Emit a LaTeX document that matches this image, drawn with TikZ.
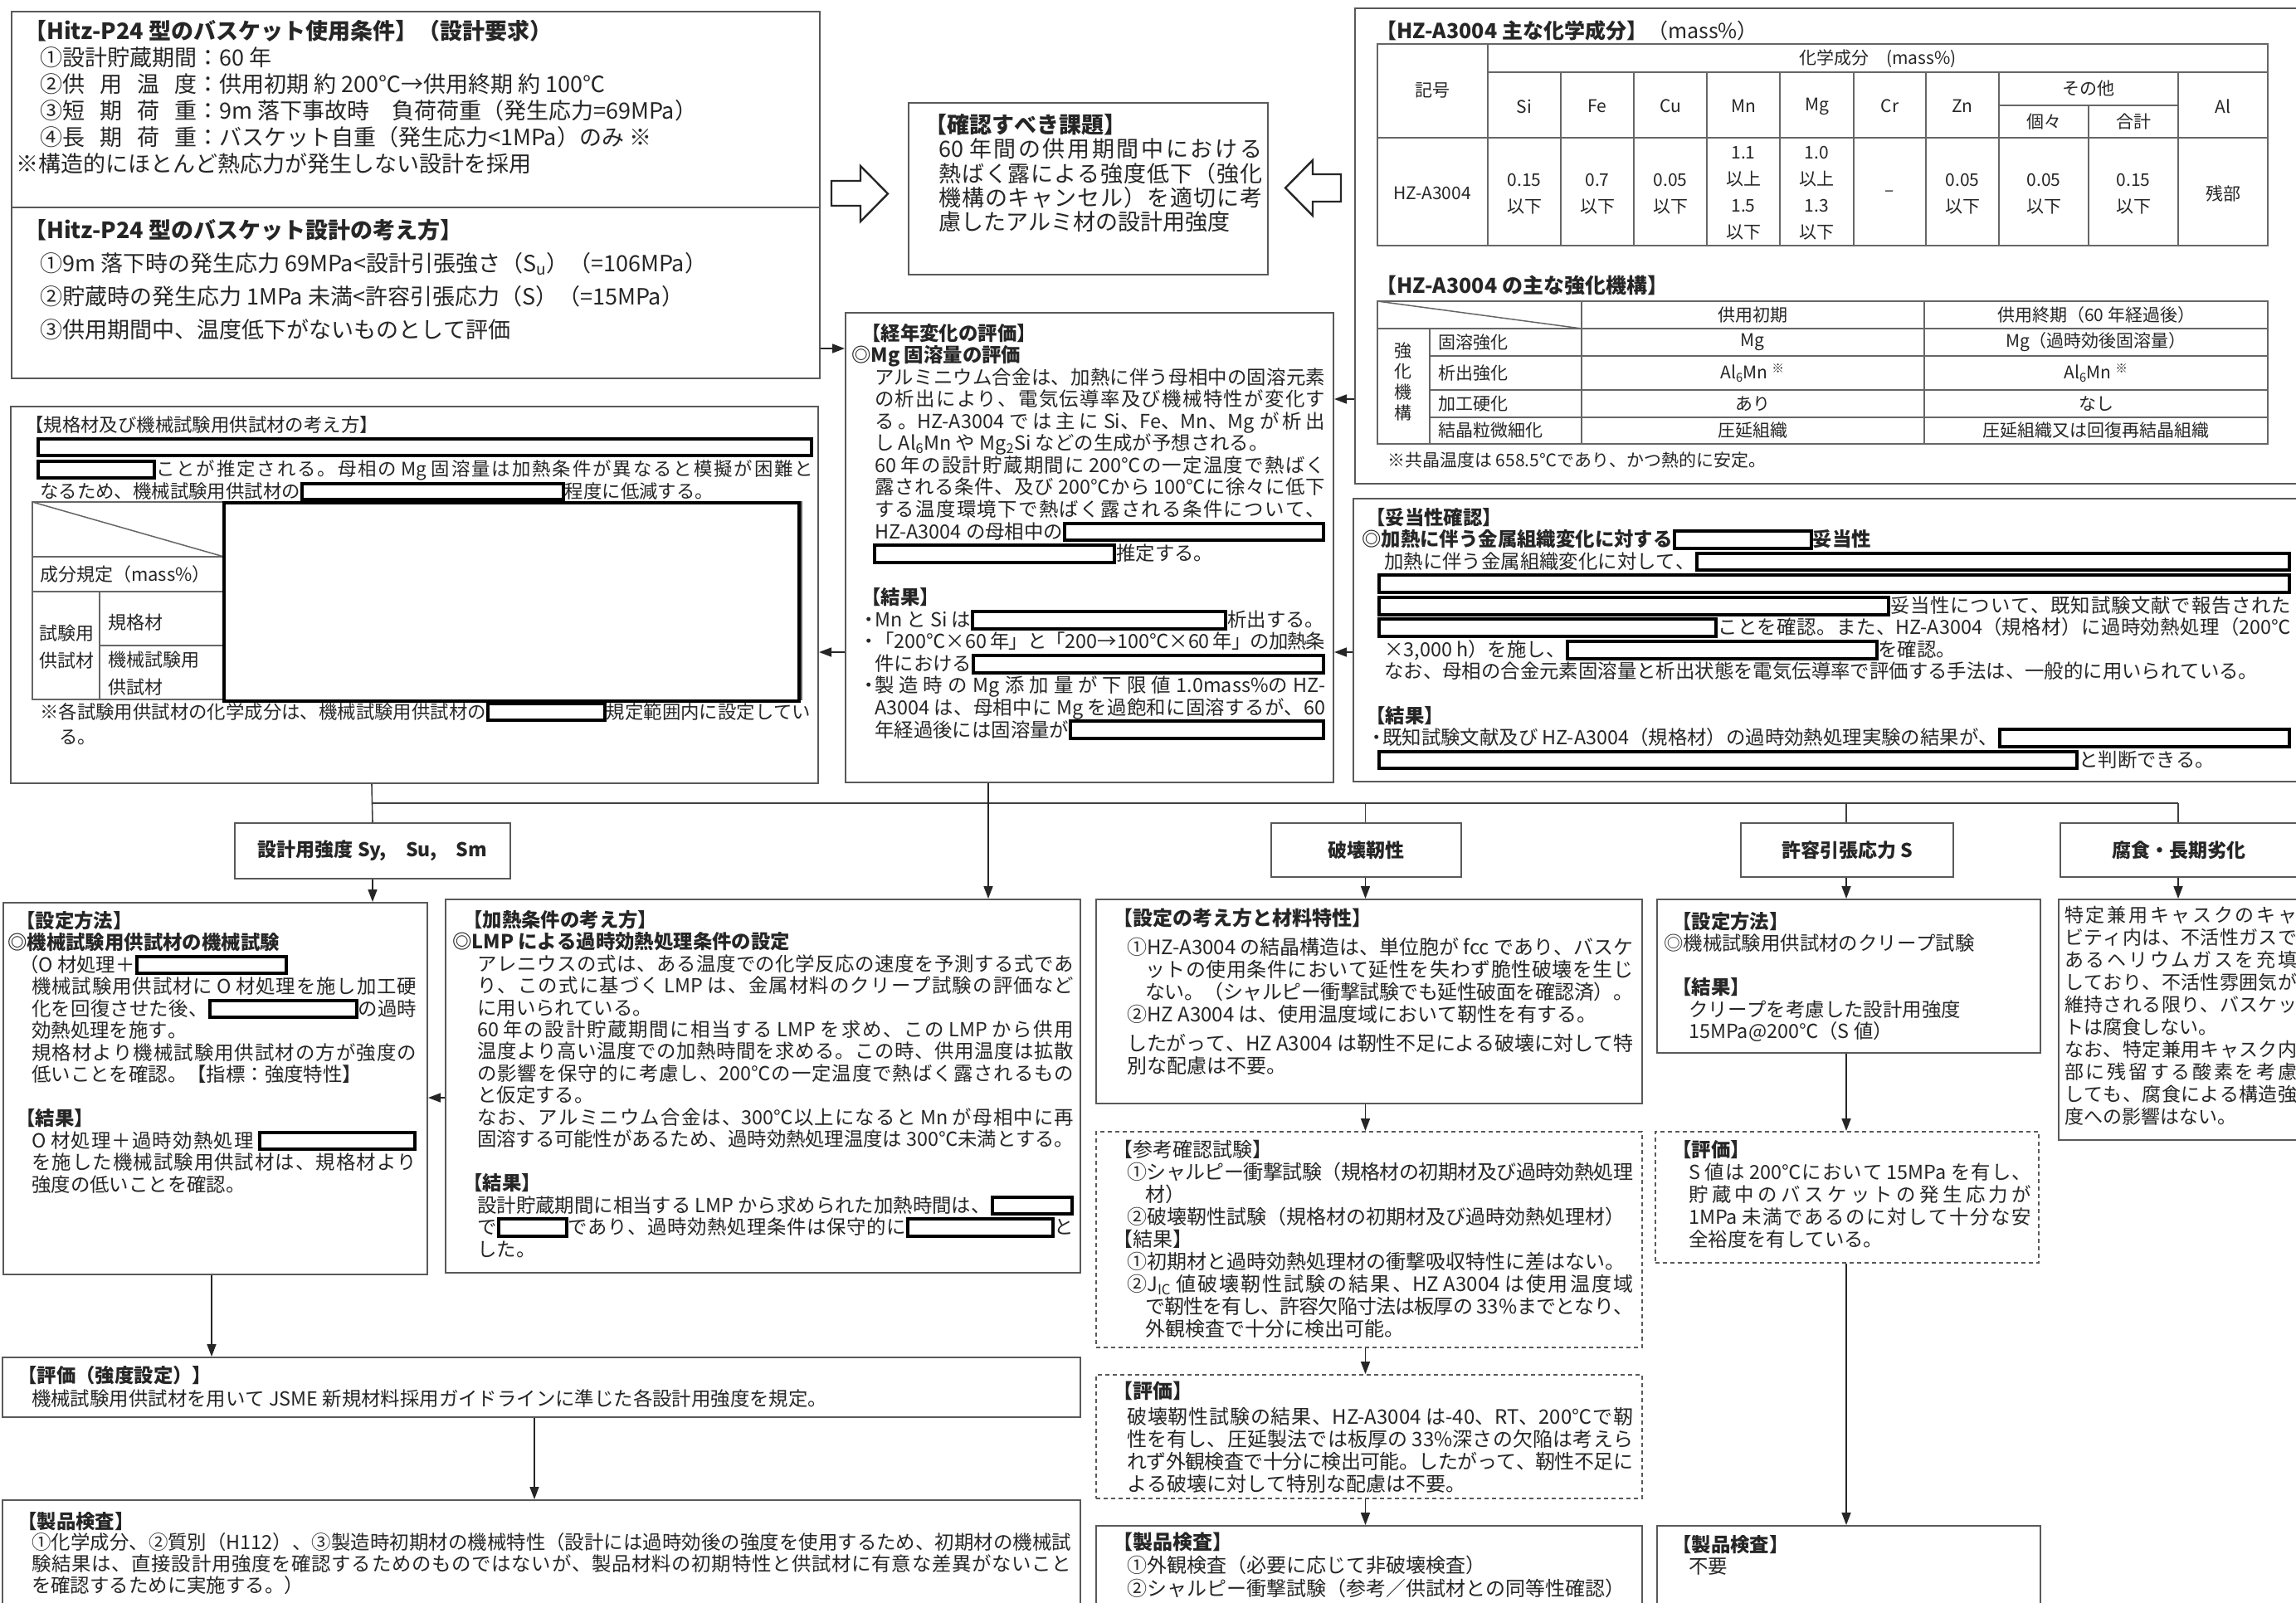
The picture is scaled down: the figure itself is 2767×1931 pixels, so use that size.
\documentclass[tikz,border=0pt]{standalone}
\usepackage{fontspec}
\setmainfont{Noto Sans CJK JP}
\usetikzlibrary{arrows.meta}
\newXeTeXintercharclass\jcls
\newcount\jc
\def\jrange#1#2{\jc=#1\relax\loop\XeTeXcharclass\jc=\jcls\ifnum\jc<#2\advance\jc1\repeat}
\jrange{"3000}{"30FF}\jrange{"4E00}{"9FFF}\jrange{"FF00}{"FFEF}\jrange{"2460}{"24FF}\jrange{"25A0}{"25FF}\jrange{"203B}{"203B}\jrange{"2103}{"2103}
\newcommand\cjkg{\hskip0pt plus 10pt minus 1.5pt\relax}
\XeTeXinterchartoks\jcls\jcls={\cjkg}
\XeTeXinterchartokenstate=1
\newcommand\fsz[2]{\fontsize{#1pt}{#2pt}\selectfont}
\newcommand\rowL[1]{\hbox to\hsize{\vrule width0pt height.95em depth.25em\relax#1\hfil}}
\newcommand\rowJ[1]{\hbox to\hsize{\vrule width0pt height.95em depth.25em\relax#1}}
\newcommand\blk[4]{\vbox{\hsize=#1pt\relax\fsz{#2}{#3}\lineskiplimit=-1000pt\lineskip=0pt\relax #4}}
\newcommand\rdxfill{{\color{black}\vrule width4pt height.88em depth.18em\xleaders\hbox{\lower.18em\vbox{\hrule height4pt width1pt\vskip\dimexpr1.06em-8pt\relax\hrule height4pt width1pt}}\hfill\vrule width4pt height.88em depth.18em}}
\newcommand\rdx[1]{\makebox[#1pt][l]{\rdxfill}}
\newcommand\sprd[4]{\makebox[6em][s]{#1\hfil#2\hfil#3\hfil#4}}
\newcommand\bul{\makebox[14pt][c]{・}}
\begin{document}
\begin{tikzpicture}[x=1pt,y=-1pt,
  bx/.style={draw=black!65, line width=2pt, inner sep=0pt, anchor=north west},
  dbx/.style={bx, dash pattern=on 5pt off 4pt, line width=1.8pt},
  lbl/.style={font=\fsz{23}{27}\bfseries, text=black!85},
  blkn/.style={anchor=north west, inner sep=0pt, text=black!85},
  arr/.style={draw=black!85, line width=1.6pt, -{Triangle[length=15pt,width=11pt]}},
  cn/.style={draw=black!75, line width=1.6pt},
  tbl/.style={draw=black!60, line width=2pt},
  tc/.style={inner sep=0pt, text=black!85, font=\fsz{21}{32}, align=center},
  rdb/.style={draw=black, line width=4pt, fill=white},
  hol/.style={draw=black!85, line width=2.4pt, fill=white, line join=miter}]
\useasboundingbox (0,0) rectangle (2767,1931);
\fill[white] (0,0) rectangle (2767,1931);

% helper coordinates
\coordinate (xa) at (448,0);
\coordinate (xk) at (1191,0);
\coordinate (xh) at (1645.5,0);
\coordinate (xs) at (2225,0);
\coordinate (xf) at (2625,0);
\coordinate (xl) at (255,0);
\coordinate (xe) at (644,0);
\coordinate (yA) at (0,420);
\coordinate (yB) at (0,481);
\coordinate (yC) at (0,786);
\coordinate (yD) at (0,1323);
\coordinate (yH) at (0,968);
\coordinate (yT) at (0,250);

% ---------------- boxes ----------------
\node[bx, minimum width=974pt, minimum height=442pt] (tl) at (13,13) {};
\draw[draw=black!65, line width=2pt] (tl.west |- yT) -- (tl.east |- yT);
\node[bx, minimum width=433pt, minimum height=207pt] (kak) at (1094,123) {};
\node[bx, minimum width=1150pt, minimum height=573pt] (tr) at (1632,9) {};
\node[bx, minimum width=588pt, minimum height=566pt] (kei) at (1018,376) {};
\node[bx, minimum width=973pt, minimum height=454pt] (kik) at (12,489) {};
\node[bx, minimum width=1150pt, minimum height=341pt] (dat) at (1630,600) {};

\node[bx, lbl, minimum width=332pt, minimum height=67pt] (dsgn) at (282,991) {設計用強度 Sy,\quad Su,\quad Sm};
\node[bx, lbl, minimum width=229pt, minimum height=65pt] (hak) at (1531,991) {破壊靭性};
\node[bx, lbl, minimum width=256pt, minimum height=65pt] (kyo) at (2097,991) {許容引張応力 S};
\node[bx, lbl, minimum width=286pt, minimum height=65pt] (fus) at (2482,991) {腐食・長期劣化};

\node[bx, minimum width=511pt, minimum height=448pt] (set1) at (3,1087) {};
\node[bx, minimum width=765pt, minimum height=450pt] (kan) at (536,1083) {};
\node[bx, minimum width=1299pt, minimum height=72pt] (hyo1) at (2,1635) {};
\node[bx, minimum width=1299pt, minimum height=140pt] (sei1) at (2,1807) {};
\node[bx, minimum width=658pt, minimum height=246pt] (hk1) at (1320,1083) {};
\node[dbx, minimum width=658pt, minimum height=260pt] (hk2) at (1320,1363) {};
\node[dbx, minimum width=658pt, minimum height=149pt] (hk3) at (1320,1656) {};
\node[bx, minimum width=658pt, minimum height=110pt] (hk4) at (1320,1838) {};
\node[bx, minimum width=462pt, minimum height=185pt] (ky1) at (1996,1083) {};
\node[dbx, minimum width=462pt, minimum height=158pt] (ky2) at (1994,1363) {};
\node[bx, minimum width=462pt, minimum height=110pt] (ky3) at (1996,1838) {};
\node[bx, minimum width=300pt, minimum height=290pt] (fs1) at (2480,1083) {};

% hollow arrows
\draw[hol] (1002,218) -- (1037,218) -- (1037,200) -- (1070,233.5) -- (1037,267) -- (1037,248) -- (1002,248) -- cycle;
\draw[hol] (1616,210) -- (1582,210) -- (1582,193) -- (1549,226.5) -- (1582,260) -- (1582,243) -- (1616,243) -- cycle;

% ---------------- connectors ----------------
\draw[arr] (tl.east |- yA) -- (kei.west |- yA);
\draw[arr] (tr.west |- yB) -- (kei.east |- yB);
\draw[arr] (dat.west |- yC) -- (kei.east |- yC);
\draw[arr] (kei.west |- yC) -- (kik.east |- yC);
\draw[cn] (kik.south -| xa) -- (dsgn.north);
\draw[cn] (xa |- yH) -- (xf |- yH);
\draw[cn] (xh |- yH) -- (hak.north -| xh);
\draw[cn] (xs |- yH) -- (kyo.north -| xs);
\draw[cn] (xf |- yH) -- (fus.north -| xf);
\draw[arr] (kei.south -| xk) -- (kan.north -| xk);
\draw[arr] (dsgn.south) -- (set1.north -| dsgn.south);
\draw[arr] (hak.south -| xh) -- (hk1.north -| xh);
\draw[arr] (hk1.south -| xh) -- (hk2.north -| xh);
\draw[arr] (hk2.south -| xh) -- (hk3.north -| xh);
\draw[arr] (hk3.south -| xh) -- (hk4.north -| xh);
\draw[arr] (kyo.south -| xs) -- (ky1.north -| xs);
\draw[arr] (ky1.south -| xs) -- (ky2.north -| xs);
\draw[arr] (ky2.south -| xs) -- (ky3.north -| xs);
\draw[arr] (fus.south -| xf) -- (fs1.north -| xf);
\draw[arr] (kan.west |- yD) -- (set1.east |- yD);
\draw[arr] (set1.south -| xl) -- (hyo1.north -| xl);
\draw[arr] (hyo1.south -| xe) -- (sei1.north -| xe);

% ---------------- top-left texts ----------------
\node[blkn] (tla) at (19,21.6) {\blk{960}{27}{32}{%
\rowL{\hskip10pt\bfseries 【Hitz-P24 型のバスケット使用条件】（設計要求）}
\rowL{\hskip29pt ①設計貯蔵期間：60 年}
\rowL{\hskip29pt ②\sprd{供}{用}{温}{度}：供用初期 約 200℃→供用終期 約 100℃}
\rowL{\hskip29pt ③\sprd{短}{期}{荷}{重}：9m 落下事故時　負荷荷重（発生応力=69MPa）}
\rowL{\hskip29pt ④\sprd{長}{期}{荷}{重}：バスケット自重（発生応力<1MPa）のみ ※}
\rowL{※構造的にほとんど熱応力が発生しない設計を採用}}};
\node[blkn] (tlb) at (19,261.6) {\blk{960}{27}{40}{%
\rowL{\hskip10pt\bfseries 【Hitz-P24 型のバスケット設計の考え方】}
\rowL{\hskip29pt ①9m 落下時の発生応力 69MPa<設計引張強さ（S\textsubscript{u}）（=106MPa）}
\rowL{\hskip29pt ②貯蔵時の発生応力 1MPa 未満<許容引張応力（S）（=15MPa）}
\rowL{\hskip29pt ③供用期間中、温度低下がないものとして評価}}};

\node[blkn] (kakt) at (1114,134.6) {\blk{407}{27}{29.3}{%
\rowL{\bfseries 【確認すべき課題】}
\rowJ{\hskip17pt 60 年間の供用期間中における}
\rowJ{\hskip17pt 熱ばく露による強度低下（強化}
\rowJ{\hskip17pt 機構のキャンセル）を適切に考}
\rowL{\hskip17pt 慮したアルミ材の設計用強度}}};

% ---------------- top-right tables ----------------
\node[blkn, anchor=west, font=\fsz{25}{30}] (trt1) at (1658,37) {\textbf{【HZ-A3004 主な化学成分】}（mass\%）};
\draw[tbl] (1660,53) rectangle (2733,296);
\draw[tbl] (1793,87) -- (2733,87);
\draw[tbl] (1660,166) -- (2733,166);
\draw[tbl] (2409,127) -- (2625,127);
\draw[tbl] (1793,53) -- (1793,296);
\foreach \x in {1881,1969,2057,2145,2234,2321,2409,2625} \draw[tbl] (\x,87) -- (\x,296);
\draw[tbl] (2517,127) -- (2517,296);
\node[tc] (t1k) at (1726,109) {記号};
\node[tc] (t1h) at (2263,71) {化学成分　(mass\%)};
\foreach \x/\t [count=\i] in {1837/Si,1925/Fe,2013/Cu,2101/Mn,2189.5/Mg,2277.5/Cr,2365/Zn,2679/Al} {\node[tc] (el\i) at (\x,128) {\t};}
\node[tc] (t1o) at (2517,107) {その他};
\node[tc] (t1p) at (2463,147) {個々};
\node[tc] (t1q) at (2571,147) {合計};
\node[tc] (t1n) at (1726,233) {HZ-A3004};
\foreach \x/\t [count=\i] in {1837/0.15,1925/0.7,2013/0.05,2365/0.05,2463/0.05,2571/0.15} {\node[tc] (dv\i) at (\x,234) {\t\\以下};}
\node[tc] (dmn) at (2101,233) {1.1\\以上\\1.5\\以下};
\node[tc] (dmg) at (2189.5,233) {1.0\\以上\\1.3\\以下};
\node[tc] (dcr) at (2277.5,233) {–};
\node[tc] (dal) at (2679,233) {残部};

\node[blkn, anchor=west, font=\fsz{25}{30}] (trt2) at (1658,344) {\textbf{【HZ-A3004 の主な強化機構】}};
\draw[tbl] (1660,363) rectangle (2733,535);
\draw[tbl] (1660,396) -- (2733,396);
\foreach \y in {429,470,503} \draw[tbl] (1723,\y) -- (2733,\y);
\draw[tbl] (1723,396) -- (1723,535);
\draw[tbl] (1906,363) -- (1906,535);
\draw[tbl] (2319,363) -- (2319,535);
\draw[tbl, line width=1.5pt] (1660,363) -- (1906,396);
\node[tc] (t2a) at (2112,380) {供用初期};
\node[tc] (t2b) at (2526,380) {供用終期（60 年経過後）};
\node[tc, font=\fsz{21}{25}] (t2k) at (1691,460) {強\\化\\機\\構};
\node[tc, anchor=west] (t2r1) at (1733,412.5) {固溶強化};
\node[tc, anchor=west] (t2r2) at (1733,449.5) {析出強化};
\node[tc, anchor=west] (t2r3) at (1733,486.5) {加工硬化};
\node[tc, anchor=west] (t2r4) at (1733,519) {結晶粒微細化};
\node[tc] (t2c1) at (2112,412.5) {Mg};
\node[tc] (t2c2) at (2112,449.5) {Al\textsubscript{6}Mn \textsuperscript{※}};
\node[tc] (t2c3) at (2112,486.5) {あり};
\node[tc] (t2c4) at (2112,519) {圧延組織};
\node[tc] (t2d1) at (2526,412.5) {Mg（過時効後固溶量）};
\node[tc] (t2d2) at (2526,449.5) {Al\textsubscript{6}Mn \textsuperscript{※}};
\node[tc] (t2d3) at (2526,486.5) {なし};
\node[tc] (t2d4) at (2526,519) {圧延組織又は回復再結晶組織};
\node[tc, anchor=west] (t2n) at (1672,555) {※共晶温度は 658.5℃であり、かつ熱的に安定。};

% ---------------- kei ----------------
\node[blkn] (keit) at (1026,387.7) {\blk{571}{23.4}{26.55}{%
\rowL{\hskip12pt\bfseries 【経年変化の評価】}
\rowL{\bfseries ◎Mg 固溶量の評価}
\rowJ{\hskip28pt アルミニウム合金は、加熱に伴う母相中の固溶元素}
\rowJ{\hskip28pt の析出により、電気伝導率及び機械特性が変化す}
\rowJ{\hskip28pt る。HZ-A3004 では主に Si、Fe、Mn、Mg が析出}
\rowL{\hskip28pt し Al\textsubscript{6}Mn や Mg\textsubscript{2}Si などの生成が予想される。}
\rowJ{\hskip28pt 60 年の設計貯蔵期間に 200℃の一定温度で熱ばく}
\rowJ{\hskip28pt 露される条件、及び 200℃から 100℃に徐々に低下}
\rowJ{\hskip28pt する温度環境下で熱ばく露される条件について、}
\rowL{\hskip28pt HZ-A3004 の母相中の\rdxfill}
\rowL{\hskip26pt\rdx{293}推定する。}
\rowL{}
\rowL{\hskip12pt\bfseries 【結果】}
\rowL{\hskip14pt\bul Mn と Si は\rdx{309}析出する。}
\rowJ{\hskip14pt\bul「200℃×60 年」と「200→100℃×60 年」の加熱条}
\rowL{\hskip28pt 件における\rdxfill}
\rowJ{\hskip14pt\bul 製造時の Mg 添加量が下限値 1.0mass\%の HZ-}
\rowJ{\hskip28pt A3004 は、母相中に Mg を過飽和に固溶するが、60}
\rowL{\hskip28pt 年経過後には固溶量が\rdxfill}}};

% ---------------- kik ----------------
\node[blkn] (kikt) at (30,498.7) {\blk{950}{22.4}{26.7}{%
\rowL{【規格材及び機械試験用供試材の考え方】}
\rowL{\hskip14pt\rdxfill}
\rowJ{\hskip14pt\rdx{144}ことが推定される。母相の Mg 固溶量は加熱条件が異なると模擬が困難と}
\rowL{\hskip18pt なるため、機械試験用供試材の\rdx{319}程度に低減する。}}};
\draw[tbl, line width=1.5pt] (39,605) rectangle (966,843);
\draw[tbl, line width=1.5pt] (39,671) -- (966,671);
\draw[tbl, line width=1.5pt] (39,713) -- (966,713);
\draw[tbl, line width=1.5pt] (120,778) -- (966,778);
\draw[tbl, line width=1.5pt] (120,713) -- (120,843);
\draw[tbl, line width=1.5pt] (270,605) -- (270,843);
\draw[tbl, line width=1.5pt] (39,605) -- (270,671);
\node[tc, anchor=west, font=\fsz{22}{30}] (kt1) at (48,692) {成分規定（mass\%）};
\node[tc, font=\fsz{22}{33}] (kt2) at (80,780) {試験用\\供試材};
\node[tc, anchor=west, font=\fsz{22}{30}] (kt3) at (130,750) {規格材};
\node[tc, anchor=west, align=left, font=\fsz{22}{33}] (kt4) at (130,812) {機械試験用\\供試材};
\draw[rdb] (270,606) rectangle (963,845);
\node[blkn] (kikn) at (48,844.7) {\blk{930}{22.4}{30}{%
\rowL{※各試験用供試材の化学成分は、機械試験用供試材の\rdx{145}規定範囲内に設定してい}
\rowL{\hskip23pt る。}}};

% ---------------- dat ----------------
\node[blkn] (datt) at (1641,609.7) {\blk{1120}{23.4}{26.55}{%
\rowL{\hskip5pt\bfseries 【妥当性確認】}
\rowL{\bfseries ◎加熱に伴う金属組織変化に対する\rdx{169}妥当性}
\rowL{\hskip27pt 加熱に伴う金属組織変化に対して、\rdxfill}
\rowL{\hskip19pt\rdxfill}
\rowJ{\hskip19pt\rdx{618}妥当性について、既知試験文献で報告された}
\rowJ{\hskip19pt\rdx{410}ことを確認。また、HZ-A3004（規格材）に過時効熱処理（200℃}
\rowL{\hskip27pt ×3,000 h）を施し、\rdx{377}を確認。}
\rowL{\hskip27pt なお、母相の合金元素固溶量と析出状態を電気伝導率で評価する手法は、一般的に用いられている。}
\rowL{}
\rowL{\hskip5pt\bfseries 【結果】}
\rowL{\hskip11pt\bul 既知試験文献及び HZ-A3004（規格材）の過時効熱処理実験の結果が、\rdxfill}
\rowL{\hskip19pt\rdx{845}と判断できる。}}};

% ---------------- bottom-left ----------------
\node[blkn] (set1t) at (9,1095.7) {\blk{493}{23.4}{26.5}{%
\rowL{\hskip10pt\bfseries 【設定方法】}
\rowL{\bfseries ◎機械試験用供試材の機械試験}
\rowL{\hskip14pt （O 材処理＋\rdx{184}}
\rowJ{\hskip29pt 機械試験用供試材に O 材処理を施し加工硬}
\rowJ{\hskip29pt 化を回復させた後、\rdx{181}の過時}
\rowL{\hskip29pt 効熱処理を施す。}
\rowJ{\hskip29pt 規格材より機械試験用供試材の方が強度の}
\rowL{\hskip29pt 低いことを確認。【指標：強度特性】}
\rowL{}
\rowL{\hskip10pt\bfseries 【結果】}
\rowJ{\hskip29pt O 材処理＋過時効熱処理 \rdx{191}}
\rowJ{\hskip29pt を施した機械試験用供試材は、規格材より}
\rowL{\hskip29pt 強度の低いことを確認。}}};

\node[blkn] (kant) at (545,1094.7) {\blk{749}{23.4}{26.47}{%
\rowL{\hskip13pt\bfseries 【加熱条件の考え方】}
\rowL{\bfseries ◎LMP による過時効熱処理条件の設定}
\rowJ{\hskip30pt アレニウスの式は、ある温度での化学反応の速度を予測する式であ}
\rowJ{\hskip30pt り、この式に基づく LMP は、金属材料のクリープ試験の評価など}
\rowL{\hskip30pt に用いられている。}
\rowJ{\hskip30pt 60 年の設計貯蔵期間に相当する LMP を求め、この LMP から供用}
\rowJ{\hskip30pt 温度より高い温度での加熱時間を求める。この時、供用温度は拡散}
\rowJ{\hskip30pt の影響を保守的に考慮し、200℃の一定温度で熱ばく露されるもの}
\rowL{\hskip30pt と仮定する。}
\rowJ{\hskip30pt なお、アルミニウム合金は、300℃以上になると Mn が母相中に再}
\rowJ{\hskip30pt 固溶する可能性があるため、過時効熱処理温度は 300℃未満とする。}
\rowL{}
\rowL{\hskip13pt\bfseries 【結果】}
\rowL{\hskip30pt 設計貯蔵期間に相当する LMP から求められた加熱時間は、\rdxfill}
\rowJ{\hskip30pt で\rdx{86}であり、過時効熱処理条件は保守的に\rdx{179}と}
\rowL{\hskip30pt した。}}};

\node[blkn] (hyo1t) at (21,1643.7) {\blk{1270}{23.4}{28}{%
\rowL{\bfseries 【評価（強度設定）】}
\rowL{\hskip17pt 機械試験用供試材を用いて JSME 新規材料採用ガイドラインに準じた各設計用強度を規定。}}};

\node[blkn] (sei1t) at (21,1819.7) {\blk{1270}{23.4}{25.7}{%
\rowL{\bfseries 【製品検査】}
\rowJ{\hskip17pt ①化学成分、②質別（H112）、③製造時初期材の機械特性（設計には過時効後の強度を使用するため、初期材の機械試}
\rowJ{\hskip17pt 験結果は、直接設計用強度を確認するためのものではないが、製品材料の初期特性と供試材に有意な差異がないこと}
\rowL{\hskip17pt を確認するために実施する。）}}};

% ---------------- fracture toughness column ----------------
\node[blkn] (hk1t) at (1341,1092.3) {\blk{627}{24}{27}{%
\rowL{\bfseries 【設定の考え方と材料特性】}
\vskip8pt
\rowJ{\hskip17pt ①HZ-A3004 の結晶構造は、単位胞が fcc であり、バスケ}
\rowJ{\hskip39pt ットの使用条件において延性を失わず脆性破壊を生じ}
\rowL{\hskip39pt ない。（シャルピー衝撃試験でも延性破面を確認済）。}
\rowL{\hskip17pt ②HZ A3004 は、使用温度域において靭性を有する。}
\vskip8pt
\rowJ{\hskip17pt したがって、HZ A3004 は靭性不足による破壊に対して特}
\rowL{\hskip17pt 別な配慮は不要。}}};

\node[blkn] (hk2t) at (1341,1371.3) {\blk{627}{24}{27}{%
\rowL{【参考確認試験】}
\rowJ{\hskip17pt ①シャルピー衝撃試験（規格材の初期材及び過時効熱処理}
\rowL{\hskip39pt 材）}
\rowL{\hskip17pt ②破壊靭性試験（規格材の初期材及び過時効熱処理材）}
\rowL{【結果】}
\rowL{\hskip17pt ①初期材と過時効熱処理材の衝撃吸収特性に差はない。}
\rowJ{\hskip17pt ②J\textsubscript{IC} 値破壊靭性試験の結果、HZ A3004 は使用温度域}
\rowJ{\hskip39pt で靭性を有し、許容欠陥寸法は板厚の 33\%までとなり、}
\rowL{\hskip39pt 外観検査で十分に検出可能。}}};

\node[blkn] (hk3t) at (1341,1662.3) {\blk{627}{24}{27}{%
\rowL{\bfseries 【評価】}
\vskip4pt
\rowJ{\hskip17pt 破壊靭性試験の結果、HZ-A3004 は-40、RT、200℃で靭}
\rowJ{\hskip17pt 性を有し、圧延製法では板厚の 33\%深さの欠陥は考えら}
\rowJ{\hskip17pt れず外観検査で十分に検出可能。したがって、靭性不足に}
\rowL{\hskip17pt よる破壊に対して特別な配慮は不要。}}};

\node[blkn] (hk4t) at (1341,1844.3) {\blk{627}{24}{28}{%
\rowL{\bfseries 【製品検査】}
\rowL{\hskip17pt ①外観検査（必要に応じて非破壊検査）}
\rowL{\hskip17pt ②シャルピー衝撃試験（参考／供試材との同等性確認）}}};

% ---------------- allowable stress column ----------------
\node[blkn] (ky1t) at (2005,1096.7) {\blk{445}{23.4}{26.5}{%
\rowL{\hskip10pt\bfseries 【設定方法】}
\rowL{◎機械試験用供試材のクリープ試験}
\rowL{}
\rowL{\hskip10pt\bfseries 【結果】}
\rowL{\hskip30pt クリープを考慮した設計用強度}
\rowL{\hskip30pt 15MPa@200℃（S 値）}}};

\node[blkn] (ky2t) at (2005,1371.7) {\blk{443}{23.4}{27}{%
\rowL{\hskip10pt\bfseries 【評価】}
\rowJ{\hskip30pt S 値は 200℃において 15MPa を有し、}
\rowJ{\hskip30pt 貯蔵中のバスケットの発生応力が}
\rowJ{\hskip30pt 1MPa 未満であるのに対して十分な安}
\rowL{\hskip30pt 全裕度を有している。}}};

\node[blkn] (ky3t) at (2005,1847.7) {\blk{445}{23.4}{26}{%
\rowL{\hskip10pt\bfseries 【製品検査】}
\rowL{\hskip30pt 不要}}};

% ---------------- corrosion column ----------------
\node[blkn] (fs1t) at (2488,1089.7) {\blk{280}{23}{27}{%
\rowJ{特定兼用キャスクのキャ}
\rowJ{ビティ内は、不活性ガスで}
\rowJ{あるヘリウムガスを充填}
\rowJ{しており、不活性雰囲気が}
\rowJ{維持される限り、バスケッ}
\rowL{トは腐食しない。}
\rowJ{なお、特定兼用キャスク内}
\rowJ{部に残留する酸素を考慮}
\rowJ{しても、腐食による構造強}
\rowL{度への影響はない。}}};
\end{tikzpicture}
\end{document}
